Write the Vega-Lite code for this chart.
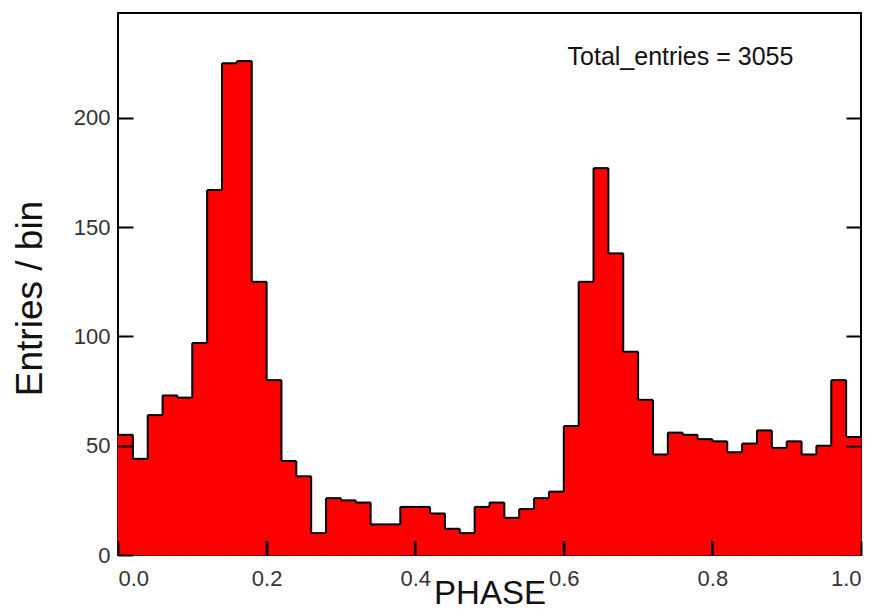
{
  "$schema": "https://vega.github.io/schema/vega-lite/v6.json",
  "width": 743,
  "height": 542,
  "autosize": "none",
  "padding": {"left": 118, "top": 13, "right": 18, "bottom": 54},
  "background": "white",
  "config": {
    "view": {"stroke": "black", "strokeWidth": 2},
    "axis": {
      "grid": false,
      "domain": false,
      "labelFont": "Liberation Sans",
      "titleFont": "Liberation Sans",
      "labelColor": "#333333",
      "titleColor": "#111111",
      "titleFontWeight": "normal",
      "tickColor": "black",
      "tickWidth": 2
    }
  },
  "data": {
    "values": [
      {"start": 0.00, "end": 0.02, "count": 55},
      {"start": 0.02, "end": 0.04, "count": 44},
      {"start": 0.04, "end": 0.06, "count": 64},
      {"start": 0.06, "end": 0.08, "count": 73},
      {"start": 0.08, "end": 0.10, "count": 72},
      {"start": 0.10, "end": 0.12, "count": 97},
      {"start": 0.12, "end": 0.14, "count": 167},
      {"start": 0.14, "end": 0.16, "count": 225},
      {"start": 0.16, "end": 0.18, "count": 226},
      {"start": 0.18, "end": 0.20, "count": 125},
      {"start": 0.20, "end": 0.22, "count": 80},
      {"start": 0.22, "end": 0.24, "count": 43},
      {"start": 0.24, "end": 0.26, "count": 36},
      {"start": 0.26, "end": 0.28, "count": 10},
      {"start": 0.28, "end": 0.30, "count": 26},
      {"start": 0.30, "end": 0.32, "count": 25},
      {"start": 0.32, "end": 0.34, "count": 24},
      {"start": 0.34, "end": 0.36, "count": 14},
      {"start": 0.36, "end": 0.38, "count": 14},
      {"start": 0.38, "end": 0.40, "count": 22},
      {"start": 0.40, "end": 0.42, "count": 22},
      {"start": 0.42, "end": 0.44, "count": 19},
      {"start": 0.44, "end": 0.46, "count": 12},
      {"start": 0.46, "end": 0.48, "count": 10},
      {"start": 0.48, "end": 0.50, "count": 22},
      {"start": 0.50, "end": 0.52, "count": 24},
      {"start": 0.52, "end": 0.54, "count": 17},
      {"start": 0.54, "end": 0.56, "count": 21},
      {"start": 0.56, "end": 0.58, "count": 26},
      {"start": 0.58, "end": 0.60, "count": 29},
      {"start": 0.60, "end": 0.62, "count": 59},
      {"start": 0.62, "end": 0.64, "count": 125},
      {"start": 0.64, "end": 0.66, "count": 177},
      {"start": 0.66, "end": 0.68, "count": 138},
      {"start": 0.68, "end": 0.70, "count": 93},
      {"start": 0.70, "end": 0.72, "count": 71},
      {"start": 0.72, "end": 0.74, "count": 46},
      {"start": 0.74, "end": 0.76, "count": 56},
      {"start": 0.76, "end": 0.78, "count": 55},
      {"start": 0.78, "end": 0.80, "count": 53},
      {"start": 0.80, "end": 0.82, "count": 52},
      {"start": 0.82, "end": 0.84, "count": 47},
      {"start": 0.84, "end": 0.86, "count": 51},
      {"start": 0.86, "end": 0.88, "count": 57},
      {"start": 0.88, "end": 0.90, "count": 49},
      {"start": 0.90, "end": 0.92, "count": 52},
      {"start": 0.92, "end": 0.94, "count": 46},
      {"start": 0.94, "end": 0.96, "count": 50},
      {"start": 0.96, "end": 0.98, "count": 80},
      {"start": 0.98, "end": 1.00, "count": 54}
    ]
  },
  "resolve": {"axis": {"y": "independent"}},
  "layer": [
    {
      "mark": {"type": "rect", "fill": "#ff0000", "stroke": "#ff0000", "strokeWidth": 1},
      "encoding": {
        "x": {
          "field": "start",
          "type": "quantitative",
          "scale": {"domain": [0, 1], "nice": false, "zero": false},
          "axis": {
            "zindex": 1,
            "values": [0, 0.2, 0.4, 0.6, 0.8, 1.0],
            "format": ".1f",
            "tickSize": -14,
            "labelPadding": 27,
            "labelFontSize": 22,
            "labelBound": false,
            "labelOverlap": false,
            "title": "PHASE",
            "titleFontSize": 33,
            "titleBaseline": "alphabetic",
            "titleY": 48
          }
        },
        "x2": {"field": "end"},
        "y": {
          "field": "count",
          "type": "quantitative",
          "scale": {"domain": [0, 248], "nice": false},
          "axis": {
            "zindex": 1,
            "values": [0, 50, 100, 150, 200],
            "tickSize": -15,
            "labelPadding": 23,
            "labelFontSize": 22,
            "labelOverlap": false,
            "title": "Entries / bin",
            "titleFontSize": 37,
            "titleAngle": -90,
            "titleX": -88,
            "titleY": 285,
            "titleAlign": "center",
            "titleBaseline": "middle"
          }
        },
        "y2": {"datum": 0}
      }
    },
    {
      "mark": {"type": "rule", "color": "black", "strokeWidth": 2},
      "encoding": {
        "x": {"field": "start", "type": "quantitative"},
        "x2": {"field": "end"},
        "y": {
          "field": "count",
          "type": "quantitative",
          "axis": {
            "zindex": 1,
            "orient": "right",
            "values": [50, 100, 150, 200],
            "labels": false,
            "title": null,
            "tickSize": -15
          }
        }
      }
    },
    {
      "transform": [
        {"window": [{"op": "lead", "field": "count", "as": "next"}], "sort": [{"field": "start", "order": "ascending"}]},
        {"filter": "datum.next != null"}
      ],
      "mark": {"type": "rule", "color": "black", "strokeWidth": 2},
      "encoding": {
        "x": {"field": "end", "type": "quantitative"},
        "y": {"field": "count", "type": "quantitative", "axis": null},
        "y2": {"field": "next"}
      }
    },
    {
      "data": {"values": [{"tick": 0.2}, {"tick": 0.4}, {"tick": 0.6}, {"tick": 0.8}]},
      "mark": {"type": "rule", "color": "black", "strokeWidth": 2},
      "encoding": {
        "x": {"field": "tick", "type": "quantitative"},
        "y": {"datum": 0, "type": "quantitative", "axis": null},
        "y2": {"datum": 6.4}
      }
    },
    {
      "data": {"values": [{"label": "Total_entries = 3055"}]},
      "mark": {"type": "text", "font": "Liberation Sans", "fontSize": 25, "color": "#111111", "align": "center", "baseline": "middle"},
      "encoding": {
        "x": {"datum": 0.757, "type": "quantitative"},
        "y": {"datum": 228, "type": "quantitative", "axis": null},
        "text": {"field": "label", "type": "nominal"}
      }
    }
  ]
}
